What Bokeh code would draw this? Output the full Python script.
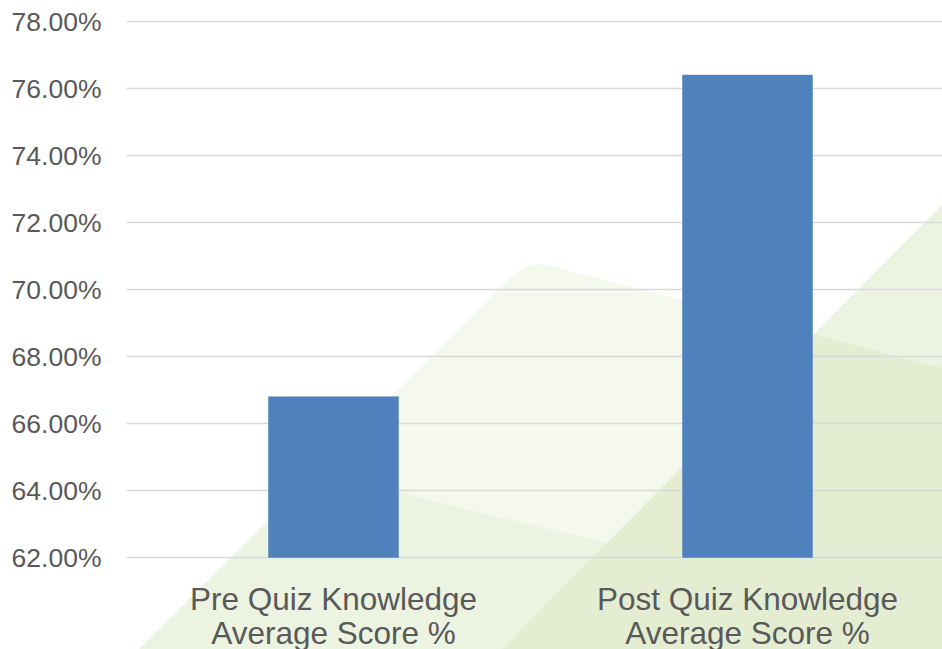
from bokeh.plotting import figure
from bokeh.models import Range1d, FixedTicker, PrintfTickFormatter, ColumnDataSource
from bokeh.core.properties import value
from bokeh.embed import file_html
from bokeh.resources import INLINE

# ---- data ----
categories = ["Pre Quiz Knowledge\nAverage Score %", "Post Quiz Knowledge\nAverage Score %"]
scores = [66.8, 76.4]
y_ticks = [62, 64, 66, 68, 70, 72, 74, 76, 78]
y_min_axis = 62

# ---- layout constants ----
PX_PER_UNIT = 33.5        # vertical pixels per percentage point
PX_PER_CAT = 414          # horizontal pixels per category
FRAME_W = 816
FRAME_H = 629
y_end = 78 + 1 / PX_PER_UNIT
y_start = y_end - FRAME_H / PX_PER_UNIT

xs = [i + 0.5 for i in range(len(categories))]
line1 = [c.split("\n")[0] for c in categories]
line2 = [c.split("\n")[1] for c in categories]

p = figure(width=942, height=649, output_backend="svg", toolbar_location=None,
           x_axis_type=None,
           x_range=Range1d(0, FRAME_W / PX_PER_CAT), y_range=Range1d(y_start, y_end),
           min_border_left=126, min_border_right=0, min_border_top=20, min_border_bottom=0)
p.outline_line_color = None
p.background_fill_color = "white"
p.border_fill_color = "white"

# ---- decorative background facets (x in category units, y in %) ----
facet_a_x = [0.029, 0.915, 0.940, 0.961, 0.983, 1.005, 1.027, 1.048, 1.971, 2.1, 2.1]
facet_a_y = [59.254, 70.209, 70.478, 70.657, 70.746, 70.761, 70.716, 70.627, 67.663, 67.249, 59.0]
facet_c_x = [0.029, 0.461, 1.162, 0.906]
facet_c_y = [59.254, 64.537, 62.418, 59.254]
facet_b_x = [0.9, 2.1, 2.1, 0.9]
facet_b_y = [59.18, 74.155, 59.0, 59.0]

for fx, fy, a in [(facet_a_x, facet_a_y, 0.11), (facet_c_x, facet_c_y, 0.08), (facet_b_x, facet_b_y, 0.18)]:
    r = p.patch(fx, fy, fill_color="#9bbb59", fill_alpha=a, line_color=None)
    r.level = "image"

# ---- bars ----
src = ColumnDataSource(dict(x=xs, top=scores, cat=categories))
p.vbar(x="x", top="top", bottom=y_min_axis, width=130 / PX_PER_CAT, source=src,
       fill_color="#4f81bd", line_color="#4f81bd", line_width=0.5)

# ---- category labels ----
label_font = value("Liberation Sans")
p.text(x=xs, y=[y_min_axis - 41 / PX_PER_UNIT] * len(xs), text=line1,
       text_align="center", text_baseline="middle", text_font=label_font,
       text_font_size="31.5px", text_color="#595959")
p.text(x=xs, y=[y_min_axis - 75 / PX_PER_UNIT] * len(xs), text=line2,
       text_align="center", text_baseline="middle", text_font=label_font,
       text_font_size="31.5px", text_color="#595959")

# ---- y axis & grid ----
p.yaxis.ticker = FixedTicker(ticks=y_ticks)
p.yaxis.formatter = PrintfTickFormatter(format="%.2f%%")
p.yaxis.axis_line_color = None
p.yaxis.major_tick_line_color = None
p.yaxis.minor_tick_line_color = None
p.yaxis.major_label_standoff = 19
p.yaxis.major_label_text_font = "Liberation Sans"
p.yaxis.major_label_text_font_size = "26.5px"
p.yaxis.major_label_text_color = "#595959"
p.ygrid.ticker = FixedTicker(ticks=y_ticks)
p.ygrid.grid_line_color = "#d9d9d9"
p.ygrid.grid_line_width = 1.5
p.xgrid.grid_line_color = None

open("out.html", "w").write(file_html(p, INLINE))
